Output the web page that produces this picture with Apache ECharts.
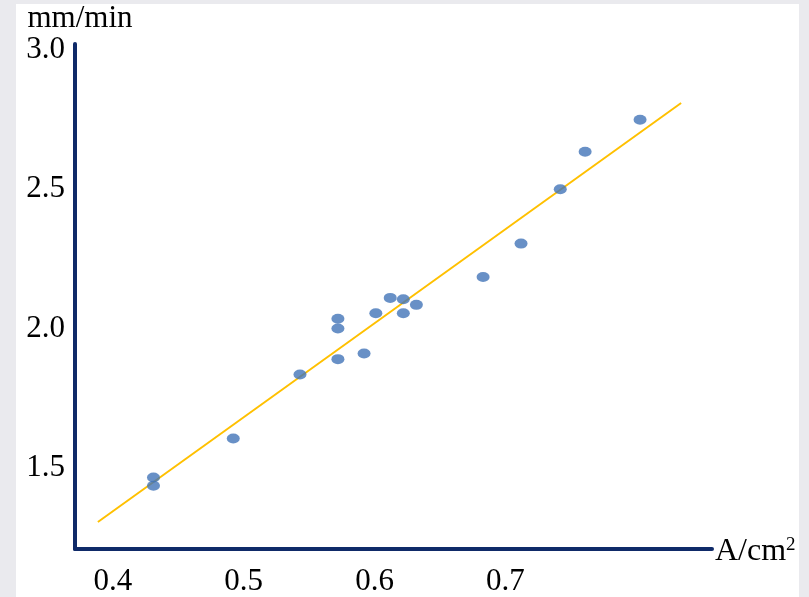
<!DOCTYPE html>
<html>
<head>
<meta charset="utf-8">
<script src="https://cdn.jsdelivr.net/npm/echarts@6/dist/echarts.min.js"></script>
<style>
html,body{margin:0;padding:0;width:809px;height:597px;overflow:hidden;
  background:#eaeaee;}
#bg{position:absolute;left:16px;top:4px;width:783px;height:593px;background:#ffffff;}
#chart{position:absolute;left:0;top:0;width:809px;height:597px;}
</style>
</head>
<body>
<div id="bg"></div>
<div id="chart"></div>
<script>
// Data
const currentDensity = [0.431, 0.431, 0.492, 0.543, 0.572, 0.572, 0.572, 0.592, 0.601, 0.612, 0.622, 0.622, 0.632, 0.683, 0.712, 0.742, 0.761, 0.803];
const rate           = [1.465, 1.435, 1.605, 1.835, 2.035, 2.000, 1.890, 1.910, 2.055, 2.110, 2.105, 2.055, 2.085, 2.185, 2.305, 2.500, 2.635, 2.750];
const trendX = [0.3885, 0.8344];
const trendY = [1.305, 2.810];
const xTicks = [0.4, 0.5, 0.6, 0.7];
const yTicks = [1.5, 2.0, 2.5, 3.0];

const points = currentDensity.map((x, i) => [x, rate[i]]);
const trend = trendX.map((x, i) => [x, trendY[i]]);

const FONT = '"Liberation Serif", "DejaVu Serif", serif';
const chart = echarts.init(document.getElementById('chart'));
chart.setOption({
  animation: false,
  backgroundColor: 'transparent',
  grid: {left: 75, right: 97, top: 44, bottom: 47, containLabel: false},
  xAxis: {
    type: 'value', min: 0.371, max: 0.858,
    splitLine: {show: false},
    axisTick: {show: false},
    axisLine: {show: true, onZero: false, lineStyle: {color: '#0f2a68', width: 4}},
    axisLabel: {
      customValues: xTicks, color: '#000', fontFamily: FONT, fontSize: 31, margin: 17,
      formatter: v => v.toFixed(1)
    },
    name: 'A/cm{sup|2}', nameLocation: 'end', nameGap: 3,
    nameTextStyle: {
      color: '#000', fontFamily: FONT, fontSize: 32, verticalAlign: 'middle', padding: [6, 0, 0, 0],
      rich: {sup: {fontFamily: FONT, fontSize: 19, color: '#000', padding: [0, 0, 14, 0]}}
    }
  },
  yAxis: {
    type: 'value', min: 1.208, max: 3.022,
    splitLine: {show: false},
    axisTick: {show: false},
    axisLine: {show: true, onZero: false, lineStyle: {color: '#0f2a68', width: 4}},
    axisLabel: {
      customValues: yTicks, color: '#000', fontFamily: FONT, fontSize: 31, margin: 10,
      padding: [6, 0, 0, 0],
      formatter: v => v.toFixed(1)
    },
    name: 'mm/min', nameLocation: 'end', nameGap: 3,
    nameTextStyle: {color: '#000', fontFamily: FONT, fontSize: 31, align: 'center', padding: [0, 0, 0, 10]}
  },
  series: [
    {
      type: 'line', data: trend, symbol: 'none', silent: true,
      lineStyle: {color: '#ffc000', width: 2}, z: 1
    },
    {
      type: 'scatter', data: points, symbol: 'circle', symbolSize: [13, 10],
      itemStyle: {color: '#4274b8'}, z: 2
    }
  ]
});
</script>
</body>
</html>
